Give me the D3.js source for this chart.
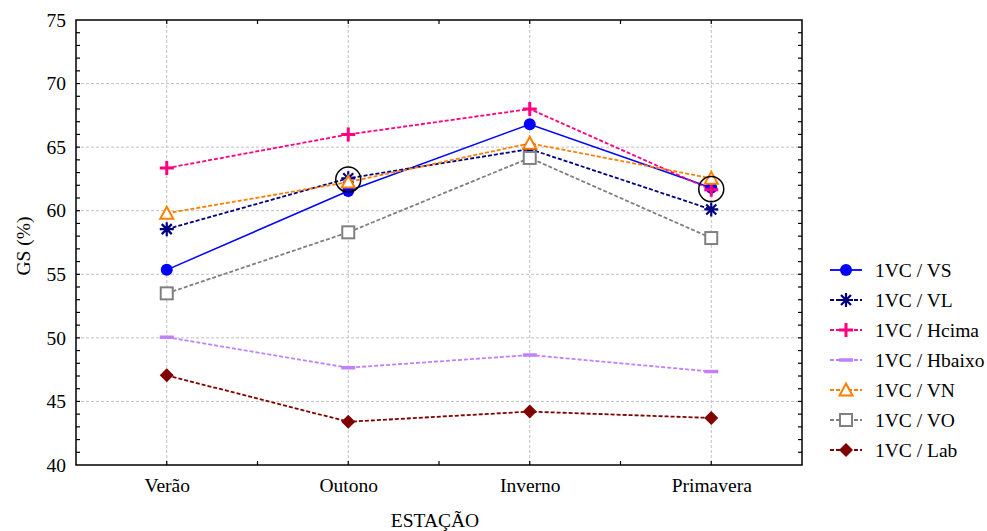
<!DOCTYPE html>
<html><head><meta charset="utf-8">
<script src="https://cdn.jsdelivr.net/npm/d3@7"></script>
<style>body{margin:0;background:#fff}svg{display:block}svg text{font-family:"Liberation Serif","Times New Roman",serif !important;fill:#000}</style>
</head><body><svg id="c" width="987" height="531" font-family="Liberation Serif"></svg>
<script>
const categories = ["Verão","Outono","Inverno","Primavera"];
const seriesNames = ["1VC / VS","1VC / VL","1VC / Hcima","1VC / Hbaixo","1VC / VN","1VC / VO","1VC / Lab"];
const vs     = [55.35, 61.55, 66.8, 61.8];
const vl     = [58.55, 62.55, 64.85, 60.1];
const hcima  = [63.35, 66.0, 68.0, 61.65];
const hbaixo = [50.05, 47.65, 48.65, 47.35];
const vn     = [59.8, 62.25, 65.3, 62.55];
const vo     = [53.5, 58.3, 64.15, 57.85];
const lab    = [47.05, 43.4, 44.2, 43.7];
const yTicks = [40,45,50,55,60,65,70,75];
const highlighted = [{cat:"Outono", value:62.45}, {cat:"Primavera", value:61.7}];

const styles = [
  {color:"#0000ff", dash:null, marker:"circle"},
  {color:"#000080", dash:"4,2", marker:"asterisk"},
  {color:"#ff0080", dash:"4,2", marker:"plus"},
  {color:"#c080ff", dash:"4,2", marker:"hline"},
  {color:"#ff8000", dash:"4,2", marker:"triangle"},
  {color:"#808080", dash:"4,2", marker:"square"},
  {color:"#800000", dash:"4,2", marker:"diamond"}
];
const data = [vs, vl, hcima, hbaixo, vn, vo, lab];
const FONT = "Liberation Serif";
const FS = 19.5;

const svg = d3.select("#c");
const L=76, R=802, T=20, B=465;
const x = d3.scalePoint().domain(categories).range([L,R]).padding(0.5);
const y = d3.scaleLinear().domain([40,75]).range([B,T]);

// grid
const g = svg.append("g");
g.selectAll(".gx").data(categories).enter().append("line")
  .attr("x1",d=>x(d)).attr("x2",d=>x(d)).attr("y1",T).attr("y2",B)
  .attr("stroke","#c0c0c0").attr("stroke-dasharray","3,2");
g.selectAll(".gy").data(yTicks.filter(v=>v>40&&v<75)).enter().append("line")
  .attr("x1",L).attr("x2",R).attr("y1",d=>y(d)).attr("y2",d=>y(d))
  .attr("stroke","#c0c0c0").attr("stroke-dasharray","3,2");

// minor ticks
const minorY = d3.range(41,75,1);
const step = x.step();
const minorX = d3.range(1,8).map(i=>L+i*step/2);
const tk = svg.append("g").attr("stroke","#000").attr("stroke-width",1.2);
minorY.forEach(v=>{
  tk.append("line").attr("x1",L).attr("x2",L+4).attr("y1",y(v)).attr("y2",y(v));
  tk.append("line").attr("x1",R).attr("x2",R-4).attr("y1",y(v)).attr("y2",y(v));
});
minorX.forEach(px=>{
  tk.append("line").attr("x1",px).attr("x2",px).attr("y1",B).attr("y2",B-4);
  tk.append("line").attr("x1",px).attr("x2",px).attr("y1",T).attr("y2",T+4);
});

// frame
svg.append("rect").attr("x",L).attr("y",T).attr("width",R-L).attr("height",B-T)
  .attr("fill","none").attr("stroke","#000").attr("stroke-width",1.5);

// axes labels
const yAxis = d3.axisLeft(y).tickValues(yTicks).tickSize(0).tickPadding(10);
const ya = svg.append("g").attr("transform",`translate(${L},0)`).call(yAxis).attr("font-family",FONT).attr("font-size",FS);
ya.select(".domain").remove();
const xAxis = d3.axisBottom(x).tickSize(0).tickPadding(13);
const xa = svg.append("g").attr("transform",`translate(0,${B})`).call(xAxis).attr("font-family",FONT).attr("font-size",FS);
xa.select(".domain").remove();

svg.append("text").attr("x",435).attr("y",527).attr("text-anchor","middle").attr("font-family",FONT).attr("font-size",FS).text("ESTAÇÃO");
svg.append("text").attr("transform","translate(30,246) rotate(-90)").attr("text-anchor","middle").attr("font-family",FONT).attr("font-size",FS).text("GS (%)");

function drawMarker(sel, type, color){
  switch(type){
    case "circle": sel.append("circle").attr("r",6).attr("fill",color); break;
    case "asterisk": {
      const p = d3.path(); const a=7, d2=5;
      p.moveTo(-a,0);p.lineTo(a,0);p.moveTo(0,-a);p.lineTo(0,a);
      p.moveTo(-d2,-d2);p.lineTo(d2,d2);p.moveTo(-d2,d2);p.lineTo(d2,-d2);
      sel.append("path").attr("d",p.toString()).attr("stroke",color).attr("stroke-width",2.2).attr("fill","none"); break;}
    case "plus": {
      const p = d3.path(); const a=7;
      p.moveTo(-a,0);p.lineTo(a,0);p.moveTo(0,-a);p.lineTo(0,a);
      sel.append("path").attr("d",p.toString()).attr("stroke",color).attr("stroke-width",3).attr("fill","none"); break;}
    case "hline":
      sel.append("line").attr("x1",-7).attr("x2",7).attr("stroke",color).attr("stroke-width",3.5); break;
    case "triangle":
      sel.append("path").attr("d","M0,-6.5L6.5,5.5L-6.5,5.5Z").attr("fill","#fff").attr("stroke",color).attr("stroke-width",2); break;
    case "square":
      sel.append("rect").attr("x",-6).attr("y",-6).attr("width",12).attr("height",12).attr("fill","#fff").attr("stroke",color).attr("stroke-width",2); break;
    case "diamond":
      sel.append("path").attr("d","M0,-7L7,0L0,7L-7,0Z").attr("fill",color); break;
  }
}

const line = d3.line().x((d,i)=>x(categories[i])).y(d=>y(d));
data.forEach((vals,si)=>{
  const st = styles[si];
  svg.append("path").datum(vals).attr("d",line).attr("fill","none")
    .attr("stroke",st.color).attr("stroke-width",st.marker==="circle"?1.5:1.8)
    .attr("stroke-dasharray",st.dash);
});
data.forEach((vals,si)=>{
  const st = styles[si];
  vals.forEach((v,i)=>{
    const m = svg.append("g").attr("transform",`translate(${x(categories[i])},${y(v)})`);
    drawMarker(m, st.marker, st.color);
  });
});

// highlight circles
highlighted.forEach(h=>{
  svg.append("circle").attr("cx",x(h.cat)).attr("cy",y(h.value)).attr("r",12.5)
    .attr("fill","none").attr("stroke","#000").attr("stroke-width",1.5);
});

// legend
const lg = svg.append("g");
seriesNames.forEach((n,i)=>{
  const st = styles[i];
  const yy = 270 + i*30;
  lg.append("line").attr("x1",830).attr("x2",862).attr("y1",yy).attr("y2",yy)
    .attr("stroke",st.color).attr("stroke-width",1.8).attr("stroke-dasharray",st.dash);
  const m = lg.append("g").attr("transform",`translate(846,${yy})`);
  drawMarker(m, st.marker, st.color);
  lg.append("text").attr("x",875).attr("y",yy+7).attr("font-family",FONT).attr("font-size",FS).text(n);
});
</script></body></html>
